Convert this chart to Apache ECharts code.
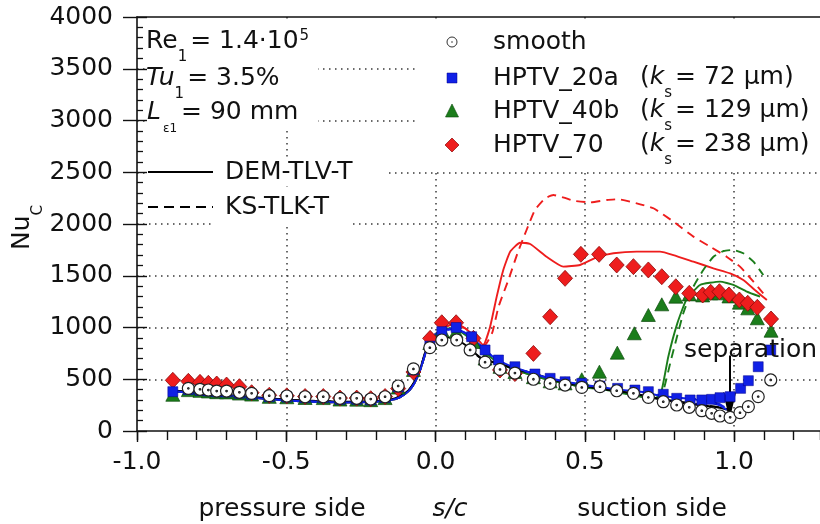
<!DOCTYPE html>
<html><head><meta charset="utf-8">
<script src="https://cdn.jsdelivr.net/npm/echarts/dist/echarts.min.js"></script>
<style>html,body{margin:0;padding:0;background:#fff}#c{width:820px;height:524px}</style>
</head><body><div id="c"></div>
<script>
// ---------- data (s/c, Nu_C) ----------
const sSmooth = [-0.828,-0.789,-0.761,-0.733,-0.700,-0.657,-0.616,-0.557,-0.498,-0.437,-0.376,-0.320,-0.264,-0.217,-0.169,-0.125,-0.074,-0.019,0.021,0.071,0.116,0.166,0.216,0.266,0.328,0.384,0.434,0.490,0.551,0.607,0.663,0.713,0.763,0.808,0.850,0.892,0.925,0.953,0.987,1.020,1.048,1.081,1.123];
const nuSmooth = [412,403,396,386,386,374,364,341,338,331,331,316,316,309,331,435,600,805,879,879,783,665,595,560,500,460,444,421,428,389,364,325,283,251,229,196,171,145,132,177,235,332,493];

const s20a = [-0.880,-0.828,-0.789,-0.761,-0.733,-0.700,-0.657,-0.616,-0.557,-0.498,-0.437,-0.376,-0.320,-0.264,-0.217,-0.169,-0.125,-0.074,-0.019,0.021,0.069,0.121,0.166,0.211,0.266,0.333,0.384,0.434,0.490,0.551,0.610,0.668,0.713,0.763,0.808,0.853,0.892,0.925,0.953,0.987,1.022,1.048,1.081,1.123];
const nu20a = [380,400,392,386,378,376,364,354,331,328,321,321,306,306,300,322,425,590,820,960,1000,911,783,686,621,551,509,476,460,435,412,396,380,355,316,300,300,306,322,332,412,486,621,783];

const s40b = [-0.880,-0.828,-0.789,-0.761,-0.733,-0.700,-0.657,-0.616,-0.557,-0.498,-0.437,-0.376,-0.320,-0.264,-0.217,-0.169,-0.125,-0.074,-0.019,0.021,0.069,0.127,0.166,0.216,0.266,0.328,0.384,0.434,0.490,0.549,0.609,0.666,0.713,0.758,0.805,0.850,0.895,0.922,0.951,0.983,1.018,1.046,1.078,1.124];
const nu40b = [350,395,388,382,375,373,362,352,330,326,319,318,304,303,298,318,420,590,850,976,960,860,700,620,570,520,480,460,500,573,757,944,1121,1224,1298,1320,1310,1330,1330,1300,1240,1185,1089,969];

const s70 = [-0.880,-0.828,-0.789,-0.761,-0.733,-0.700,-0.657,-0.616,-0.557,-0.498,-0.437,-0.376,-0.320,-0.264,-0.217,-0.169,-0.125,-0.074,-0.018,0.021,0.069,0.127,0.216,0.266,0.328,0.384,0.434,0.487,0.548,0.607,0.663,0.713,0.758,0.805,0.850,0.895,0.922,0.951,0.983,1.018,1.046,1.078,1.124];
const nu70 = [490,480,470,461,454,444,428,370,345,340,333,333,318,318,312,333,410,570,895,1046,1046,895,590,555,750,1104,1475,1707,1707,1604,1588,1556,1491,1394,1330,1314,1340,1346,1314,1266,1234,1195,1082];

// computed curves: common pressure-side part
const sPS = [-0.88,-0.8,-0.7,-0.6,-0.5,-0.4,-0.3,-0.2,-0.15,-0.12,-0.09,-0.07,-0.05,-0.035,-0.02,0.0];
const nuPS = [385,365,340,318,295,282,275,282,298,325,385,465,600,740,860,935];
const nuPSBlack = [393,373,348,326,303,290,283,290,306,335,395,478,615,755,860,880];

const sBlack = [0.03,0.065,0.1,0.155,0.216,0.27,0.328,0.39,0.439,0.5,0.551,0.6,0.663,0.746,0.8,0.85,0.9,0.953,0.985];
const nuBlackSolid = [905,895,830,700,650,600,557,500,460,432,412,390,364,310,285,262,245,225,200];
const nuBlackDash  = [900,890,825,695,645,597,553,497,458,430,410,388,362,312,290,270,250,228,205];

const sBlue = [0.03,0.065,0.1,0.15,0.2,0.25,0.3,0.35,0.4,0.45,0.5,0.55,0.6,0.65,0.7,0.752,0.8,0.841,0.9,0.95,0.975];
const nuBlueSolid = [975,990,950,830,700,630,580,535,500,470,445,425,405,390,375,340,325,315,290,250,205];
const nuBlueDash  = [970,985,945,825,695,625,577,532,497,467,442,422,402,387,372,345,330,320,298,262,220];

const sRedSolid = [0.03,0.065,0.1,0.138,0.16,0.183,0.205,0.227,0.25,0.283,0.317,0.372,0.428,0.484,0.540,0.596,0.674,0.752,0.797,0.864,0.931,0.987,1.031,1.070,1.110];
const nuRedSolid = [1000,1040,990,895,830,1008,1298,1556,1732,1819,1807,1684,1588,1604,1678,1717,1733,1733,1700,1636,1572,1523,1459,1362,1266];
const sRedDash = [0.03,0.065,0.1,0.138,0.165,0.19,0.211,0.244,0.275,0.305,0.333,0.367,0.395,0.430,0.462,0.518,0.574,0.612,0.674,0.730,0.797,0.864,0.920,0.975,1.020,1.065,1.098];
const nuRedDash = [1000,1040,990,895,830,950,1200,1459,1720,1942,2135,2248,2280,2255,2225,2209,2232,2239,2200,2152,2023,1878,1781,1684,1588,1443,1330];

const sGreenSolid = [0.03,0.065,0.1,0.15,0.2,0.25,0.3,0.35,0.4,0.45,0.5,0.573,0.62,0.685,0.735,0.755,0.78,0.81,0.84,0.886,0.953,0.998,1.043,1.087];
const nuGreenSolid = [985,990,930,800,680,610,560,515,480,450,420,396,370,332,316,360,720,1040,1266,1411,1443,1411,1346,1298];
const sGreenDash = [0.03,0.065,0.1,0.15,0.2,0.25,0.3,0.35,0.4,0.45,0.5,0.573,0.62,0.685,0.74,0.762,0.79,0.83,0.864,0.897,0.931,0.965,0.998,1.031,1.065,1.098];
const nuGreenDash = [985,990,930,800,680,610,560,515,480,450,420,396,370,335,322,380,700,1137,1394,1556,1684,1739,1749,1717,1636,1507];

// separation arrow (s/c, top Nu, tip Nu)
const sepS = 0.985, sepTop = 730, sepTip = 108;

const xTicks = [-1.0, -0.5, 0.0, 0.5, 1.0];
const yTicks = [0, 500, 1000, 1500, 2000, 2500, 3000, 3500, 4000];
const xMin = -1, xMax = 1.288;

// ---------- chart ----------
const F = '"DejaVu Sans", sans-serif';
const INK = '#111';
const zip = (a, b) => a.map((v, i) => [v, b[i]]);
const RED = '#ee1d1d', GREEN = '#1b7d1b', BLUE = '#1020e6';

function curve(s, nu, color, dashed, z) {
  return { type: 'line', data: zip(s, nu), symbol: 'none', showSymbol: false, smooth: 0.15,
    lineStyle: { color: color, width: 1.9, type: dashed ? [9, 6] : 'solid' }, z: z, silent: true, animation: false };
}
const dotted = { color: '#3a3a3a', width: 1.5, type: [1.5, 4.5] };
const isTick = (arr, v) => arr.some(t => Math.abs(t - v) < 1e-9);

const rich = {
  m:   { fontFamily: F, fontSize: 25, lineHeight: 26, verticalAlign: 'top', fill: INK },
  mi:  { fontFamily: F, fontSize: 25, lineHeight: 26, verticalAlign: 'top', fill: INK, fontStyle: 'italic' },
  sub: { fontFamily: F, fontSize: 15, lineHeight: 15, verticalAlign: 'top', padding: [21, 3, 0, 0], fill: INK },
  sub2:{ fontFamily: F, fontSize: 12, lineHeight: 12, verticalAlign: 'top', padding: [23, 4, 0, 2], fill: INK },
  sup: { fontFamily: F, fontSize: 15, lineHeight: 15, verticalAlign: 'top', padding: [0, 0, 0, 1], fill: INK }
};
function rtext(x, yCenter, text) {
  return { type: 'text', x: x, y: yCenter - 13, z: 100, silent: true,
    style: { text: text, rich: rich, align: 'left', verticalAlign: 'top', fontFamily: F, fontSize: 25, fill: INK } };
}
function ptext(x, y, text, align, italic) {
  return { type: 'text', x: x, y: y, z: 100, silent: true,
    style: { text: text, fontFamily: F, fontSize: 25, fill: INK, align: align, verticalAlign: 'middle', fontStyle: italic ? 'italic' : 'normal' } };
}
const mask = (x, y, w, h) => ({ type: 'rect', shape: { x: x, y: y, width: w, height: h }, style: { fill: '#fff' }, z: 1, silent: true });
const axisLineStyle = { color: INK, width: 1.6 };
const tickStyle = { color: INK, width: 1.4 };

const chart = echarts.init(document.getElementById('c'), null, { renderer: 'canvas' });
chart.setOption({
  animation: false,
  backgroundColor: '#fff',
  grid: { left: 137, top: 17, right: 0, bottom: 93 },
  xAxis: [{
    type: 'value', min: xMin, max: xMax, interval: 0.5, position: 'bottom',
    axisLine: { show: true, onZero: false, lineStyle: axisLineStyle },
    axisTick: { show: true, inside: false, length: 11, lineStyle: tickStyle },
    axisLabel: { margin: 19, fontFamily: F, fontSize: 25, color: INK, showMaxLabel: false,
      formatter: v => isTick(xTicks, v) ? v.toFixed(1) : '' },
    splitLine: { show: true, showMinLine: false, showMaxLine: false, lineStyle: dotted }
  }, {
    type: 'value', min: xMin, max: xMax, position: 'top',
    axisLine: { show: true, onZero: false, lineStyle: axisLineStyle },
    axisTick: { show: false }, axisLabel: { show: false }, splitLine: { show: false }
  }, {
    // minor ticks every 0.1
    type: 'value', min: xMin, max: xMax, interval: 0.1, position: 'bottom', offset: 0,
    axisLine: { show: false, onZero: false },
    axisTick: { show: true, inside: false, length: 9, lineStyle: tickStyle },
    axisLabel: { show: false }, splitLine: { show: false }
  }],
  yAxis: [{
    type: 'value', min: 0, max: 4000, interval: 500, position: 'left',
    axisLine: { show: true, onZero: false, lineStyle: axisLineStyle },
    axisTick: { show: true, inside: false, length: 14, lineStyle: tickStyle },
    axisLabel: { margin: 24, fontFamily: F, fontSize: 25, color: INK,
      formatter: v => isTick(yTicks, v) ? String(v) : '' },
    splitLine: { show: true, showMinLine: false, showMaxLine: false, lineStyle: dotted }
  }, {
    type: 'value', min: 0, max: 4000, interval: 500, position: 'left', offset: 0,
    axisLine: { show: false, onZero: false },
    axisTick: { show: true, inside: true, length: 10, lineStyle: tickStyle },
    minorTick: { show: true, splitNumber: 5, length: 6, lineStyle: { color: INK, width: 1.3 } },
    axisLabel: { show: false }, splitLine: { show: false }
  }],
  series: [
    curve(sPS.concat(sRedDash), nuPS.concat(nuRedDash), RED, true, 2),
    curve(sPS.concat(sRedSolid), nuPS.concat(nuRedSolid), RED, false, 2),
    curve(sPS.concat(sGreenDash), nuPS.concat(nuGreenDash), GREEN, true, 2),
    curve(sPS.concat(sGreenSolid), nuPS.concat(nuGreenSolid), GREEN, false, 2),
    curve(sPS.concat(sBlack), nuPSBlack.concat(nuBlackDash), '#000', true, 2),
    curve(sPS.concat(sBlack), nuPSBlack.concat(nuBlackSolid), '#000', false, 2),
    curve(sPS.concat(sBlue), nuPS.concat(nuBlueDash), BLUE, true, 2),
    curve(sPS.concat(sBlue), nuPS.concat(nuBlueSolid), BLUE, false, 2),
    { type: 'scatter', data: zip(s40b, nu40b), symbol: 'triangle', symbolSize: [14, 13], z: 3, silent: true,
      itemStyle: { color: GREEN, borderColor: '#0c4a0c', borderWidth: 0.7, opacity: 1 } },
    { type: 'scatter', data: zip(s70, nu70), symbol: 'diamond', symbolSize: [15, 16], z: 4, silent: true,
      itemStyle: { color: RED, borderColor: '#8a0a0a', borderWidth: 0.8, opacity: 1 } },
    { type: 'scatter', data: zip(s20a, nu20a), symbol: 'rect', symbolSize: 10, z: 5, silent: true,
      itemStyle: { color: BLUE, borderColor: '#00008a', borderWidth: 0.5, opacity: 1 } },
    { type: 'scatter', data: zip(sSmooth, nuSmooth), z: 6, silent: true,
      symbol: 'path://M10,0A10,10,0,1,1,-10,0A10,10,0,1,1,10,0ZM1.3,0A1.3,1.3,0,1,1,-1.3,0A1.3,1.3,0,1,1,1.3,0Z',
      symbolSize: 12, itemStyle: { color: '#fff', borderColor: '#222', borderWidth: 1.2, opacity: 1 },
      markLine: { silent: true, animation: false, symbol: ['none', 'arrow'], symbolSize: [10, 28],
        label: { show: false }, lineStyle: { color: '#000', width: 2, type: 'solid' },
        data: [[{ coord: [sepS, sepTop] }, { coord: [sepS, sepTip] }]] } }
  ],
  graphic: [
    mask(148, 19, 170, 108),
    mask(148, 158, 240, 28),
    mask(213, 190, 137, 37),
    mask(418, 19, 402, 150),
    // parameters
    rtext(146, 42, '{m|Re}{sub|1}{m|= 1.4·10}{sup|5}'),
    rtext(146, 79, '{mi|Tu}{sub|1}{m|= 3.5%}'),
    rtext(147, 113, '{mi|L}{sub2|ε1}{m|= 90 mm}'),
    // line legend
    { type: 'line', shape: { x1: 148, y1: 172, x2: 213, y2: 172 }, style: { stroke: '#000', lineWidth: 2 }, z: 100 },
    { type: 'line', shape: { x1: 148, y1: 207, x2: 213, y2: 207 }, style: { stroke: '#000', lineWidth: 2, lineDash: [10, 6] }, z: 100 },
    ptext(225, 172, 'DEM-TLV-T', 'left'),
    ptext(225, 207, 'KS-TLK-T', 'left'),
    // marker legend
    { type: 'circle', shape: { cx: 452, cy: 42, r: 5 }, style: { fill: '#fff', stroke: '#333', lineWidth: 1 }, z: 100 },
    { type: 'circle', shape: { cx: 452, cy: 42, r: 0.8 }, style: { fill: '#333' }, z: 100 },
    { type: 'rect', shape: { x: 447, y: 73, width: 10, height: 10 }, style: { fill: BLUE, stroke: '#00008a', lineWidth: 0.5 }, z: 100 },
    { type: 'polygon', shape: { points: [[452, 104], [458.5, 117], [445.5, 117]] }, style: { fill: GREEN, stroke: '#0c4a0c', lineWidth: 0.6 }, z: 100 },
    { type: 'polygon', shape: { points: [[452, 138], [459, 145], [452, 152], [445, 145]] }, style: { fill: RED, stroke: '#8a0a0a', lineWidth: 0.7 }, z: 100 },
    ptext(493, 42, 'smooth', 'left'),
    ptext(493, 78, 'HPTV_20a', 'left'),
    ptext(493, 111, 'HPTV_40b', 'left'),
    ptext(493, 145, 'HPTV_70', 'left'),
    rtext(640, 78, '{m|(}{mi|k}{sub|s}{m|= 72 µm)}'),
    rtext(640, 111, '{m|(}{mi|k}{sub|s}{m|= 129 µm)}'),
    rtext(640, 145, '{m|(}{mi|k}{sub|s}{m|= 238 µm)}'),
    // annotations
    ptext(684, 350, 'separation', 'left'),
    ptext(282, 509, 'pressure side', 'center'),
    ptext(450, 509, 's/c', 'center', true),
    ptext(652, 509, 'suction side', 'center'),
    // y axis name
    { type: 'text', x: 23, y: 226, rotation: Math.PI / 2, z: 100, silent: true,
      style: { text: '{m|Nu}{sub|C}', rich: rich, x: 0, y: -13, align: 'center', verticalAlign: 'top', fontFamily: F, fontSize: 25, fill: INK } }
  ]
});
</script></body></html>
